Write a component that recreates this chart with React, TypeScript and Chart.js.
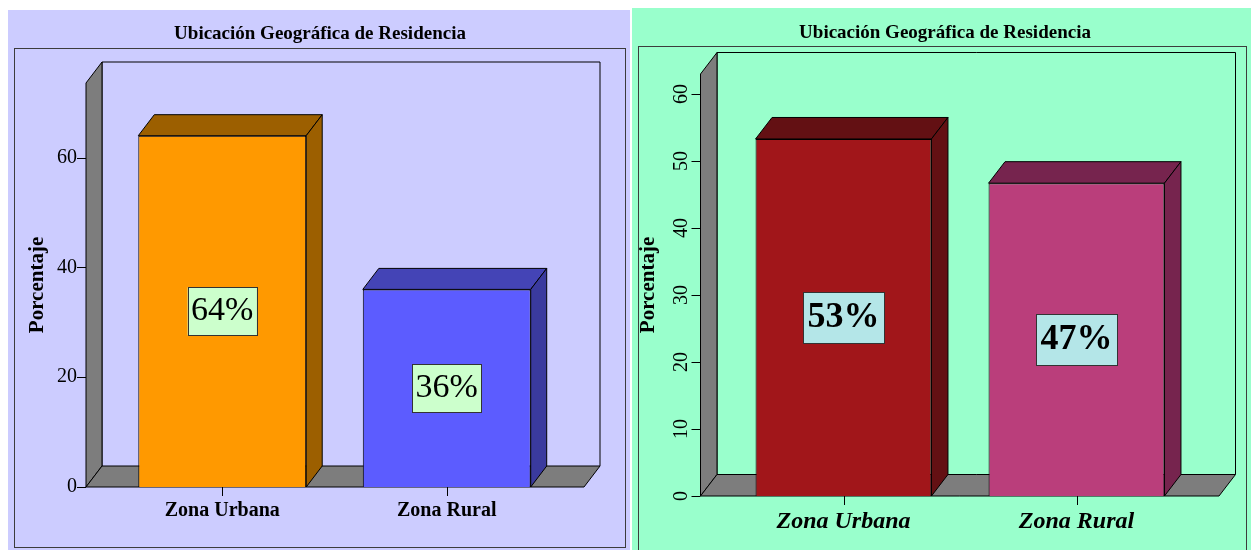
import { useEffect, useRef } from "react";
import { Chart, registerables } from "chart.js";

Chart.register(...registerables);

// ---------- data ----------
const chartTitle = "Ubicación Geográfica de Residencia";
const yAxisTitle = "Porcentaje";
const categories = ["Zona Urbana", "Zona Rural"];

const leftValues = [64, 36];
const leftValueLabels = ["64%", "36%"];
const leftTickValues = [0, 20, 40, 60];
const leftYMax = 73.6;

const rightValues = [53.3, 46.7];
const rightValueLabels = ["53%", "47%"];
const rightTickValues = [0, 10, 20, 30, 40, 50, 60];
const rightYMax = 63;

const FONT = '"Liberation Serif", "Times New Roman", serif';

type Panel = {
  left: number; top: number; width: number; height: number;
  bg: string; frame: [number, number, number, number];
  values: number[]; labels: string[]; tickValues: number[]; yMax: number;
  front: string[]; topFace: string[]; sideFace: string[]; barPct: number;
  padLeft: number;
  chartLeft: number; chartRight: number; chartTop: number; chartBottom: number;
  titleCenterY: number; titleSize: number;
  depth: [number, number]; wallGap: number; floorExt: number;
  yTickSize: number; yTickRotate: boolean; yTickPadding: number;
  yTitleSize: number; yTitlePadTop: number;
  xTickSize: number; xTickItalic: boolean; xTickPadding: number;
  boxFill: string; boxSize: number; boxBold: boolean; boxPadX: number; boxH: number;
};

const leftPanel: Panel = {
  left: 8, top: 10, width: 622, height: 540,
  bg: "#CCCCFF", frame: [6.5, 38.5, 617.5, 537.5],
  values: leftValues, labels: leftValueLabels, tickValues: leftTickValues, yMax: leftYMax,
  front: ["#FF9900", "#5C5CFF"], topFace: ["#9C5F00", "#4444B6"], sideFace: ["#9C5F00", "#3A3A9E"], barPct: 0.748,
  padLeft: 2,
  chartLeft: 102, chartRight: 551, chartTop: 73, chartBottom: 477,
  titleCenterY: 24.5, titleSize: 19,
  depth: [16, -21], wallGap: 24, floorExt: 25,
  yTickSize: 20, yTickRotate: false, yTickPadding: 33,
  yTitleSize: 21, yTitlePadTop: 15.4,
  xTickSize: 20, xTickItalic: false, xTickPadding: 12,
  boxFill: "#CCFFCC", boxSize: 34, boxBold: false, boxPadX: 3.5, boxH: 48,
};

const rightPanel: Panel = {
  left: 632, top: 8, width: 619, height: 542,
  bg: "#99FFCC", frame: [6.5, 38.5, 614.5, 560],
  values: rightValues, labels: rightValueLabels, tickValues: rightTickValues, yMax: rightYMax,
  front: ["#A1161A", "#BA3E7B"], topFace: ["#631013", "#76244E"], sideFace: ["#631013", "#76244E"], barPct: 0.755,
  padLeft: 7,
  chartLeft: 95, chartRight: 561, chartTop: 66, chartBottom: 488,
  titleCenterY: 25, titleSize: 19,
  depth: [16.5, -21.5], wallGap: 26.5, floorExt: 26,
  yTickSize: 20, yTickRotate: true, yTickPadding: 35,
  yTitleSize: 21, yTitlePadTop: -3.1,
  xTickSize: 24, xTickItalic: true, xTickPadding: 11.5,
  boxFill: "#B4E6E8", boxSize: 36, boxBold: true, boxPadX: 4.5, boxH: 51,
};

function PanelChart({ p }: { p: Panel }) {
  const ref = useRef<HTMLCanvasElement>(null);
  useEffect(() => {
    const canvas = ref.current!;
    const lh = p.titleSize * 1.2;
    const tTop = p.titleCenterY - lh / 2;
    const tBottom = p.chartTop - tTop - lh;

    const deco = {
      id: "deco3d",
      beforeDraw(chart: any) {
        const ctx = chart.ctx as CanvasRenderingContext2D;
        const { left, right, top, bottom } = chart.chartArea;
        const [dx, dy] = p.depth;
        const x0 = left - p.wallGap;
        const xR = right + p.floorExt;
        ctx.save();
        ctx.fillStyle = p.bg;
        ctx.fillRect(0, 0, chart.width, chart.height);
        ctx.lineWidth = 1;
        ctx.strokeStyle = "#3c3c3c";
        const [fx0, fy0, fx1, fy1] = p.frame;
        ctx.strokeRect(fx0, fy0, fx1 - fx0, fy1 - fy0);
        const poly = (pts: number[][], fill: string) => {
          ctx.beginPath();
          pts.forEach(([x, y], i) => (i ? ctx.lineTo(x, y) : ctx.moveTo(x, y)));
          ctx.closePath();
          ctx.fillStyle = fill;
          ctx.fill();
          ctx.strokeStyle = "#000";
          ctx.stroke();
        };
        ctx.strokeStyle = "#000";
        ctx.beginPath();
        ctx.moveTo(x0 + dx, bottom + dy);
        ctx.lineTo(x0 + dx, top + dy);
        ctx.lineTo(xR + dx, top + dy);
        ctx.lineTo(xR + dx, bottom + dy);
        ctx.stroke();
        poly([[x0, bottom], [x0, top], [x0 + dx, top + dy], [x0 + dx, bottom + dy]], "#7D7D7D");
        poly([[x0, bottom], [xR, bottom], [xR + dx, bottom + dy], [x0 + dx, bottom + dy]], "#7D7D7D");
        // axis ticks
        ctx.strokeStyle = "#000";
        const ys = chart.scales.y;
        ys.ticks.forEach((t: any) => {
          const py = Math.round(ys.getPixelForValue(t.value)) + 0.5;
          ctx.beginPath();
          ctx.moveTo(x0 - 9, py);
          ctx.lineTo(x0, py);
          ctx.stroke();
        });
        const xs = chart.scales.x;
        xs.ticks.forEach((_t: any, i: number) => {
          const px = Math.round(xs.getPixelForTick(i)) + 0.5;
          ctx.beginPath();
          ctx.moveTo(px, bottom);
          ctx.lineTo(px, bottom + 9);
          ctx.stroke();
        });
        ctx.restore();
      },
      afterDatasetsDraw(chart: any) {
        const ctx = chart.ctx as CanvasRenderingContext2D;
        const [dx, dy] = p.depth;
        const meta = chart.getDatasetMeta(0);
        ctx.save();
        ctx.lineWidth = 1;
        meta.data.forEach((bar: any, i: number) => {
          const { x, y, base, width } = bar.getProps(["x", "y", "base", "width"], true);
          const l = x - width / 2;
          const r = x + width / 2;
          const face = (pts: number[][], fill: string) => {
            ctx.beginPath();
            pts.forEach(([px, py], k) => (k ? ctx.lineTo(px, py) : ctx.moveTo(px, py)));
            ctx.closePath();
            ctx.fillStyle = fill;
            ctx.fill();
            ctx.strokeStyle = "#000";
            ctx.stroke();
          };
          face([[l, y], [r, y], [r + dx, y + dy], [l + dx, y + dy]], p.topFace[i]);
          face([[r, y], [r, base], [r + dx, base + dy], [r + dx, y + dy]], p.sideFace[i]);
          // value label box
          const lab = p.labels[i];
          ctx.font = `${p.boxBold ? "bold " : ""}${p.boxSize}px ${FONT}`;
          const tw = ctx.measureText(lab).width;
          const bw = tw + 2 * p.boxPadX;
          const bh = p.boxH;
          const cx = x;
          const cy = (y + base) / 2;
          ctx.fillStyle = p.boxFill;
          ctx.fillRect(cx - bw / 2, cy - bh / 2, bw, bh);
          ctx.strokeStyle = "#333";
          ctx.strokeRect(Math.round(cx - bw / 2) + 0.5, Math.round(cy - bh / 2) + 0.5, Math.round(bw), Math.round(bh));
          ctx.fillStyle = "#000";
          ctx.textAlign = "center";
          ctx.textBaseline = "middle";
          ctx.fillText(lab, cx, cy);
        });
        ctx.restore();
      },
    };

    const chart = new Chart(canvas, {
      type: "bar",
      data: {
        labels: categories,
        datasets: [
          {
            data: p.values,
            backgroundColor: p.front,
            borderColor: "#000",
            borderWidth: 1,
            categoryPercentage: 1,
            barPercentage: p.barPct,
          },
        ],
      },
      options: {
        animation: false,
        responsive: false,
        devicePixelRatio: 1,
        layout: { padding: { left: p.padLeft, right: 0, top: 0, bottom: 0 } },
        plugins: {
          legend: { display: false },
          tooltip: { enabled: false },
          title: {
            display: true,
            text: chartTitle,
            color: "#000",
            font: { family: FONT, size: p.titleSize, weight: "bold", lineHeight: 1.2 },
            padding: { top: tTop, bottom: tBottom },
          },
        },
        scales: {
          x: {
            type: "category",
            offset: true,
            grid: { display: false, drawTicks: false },
            border: { display: false },
            ticks: {
              color: "#000",
              autoSkip: false,
              maxRotation: 0,
              minRotation: 0,
              padding: p.xTickPadding,
              font: { family: FONT, size: p.xTickSize, weight: "bold", style: p.xTickItalic ? "italic" : "normal", lineHeight: 1.2 },
            },
            afterFit: (s: any) => {
              s.height = p.height - p.chartBottom;
            },
          },
          y: {
            type: "linear",
            min: 0,
            max: p.yMax,
            afterBuildTicks: (s: any) => {
              s.ticks = p.tickValues.map((v) => ({ value: v }));
            },
            grid: { display: false, drawTicks: false },
            border: { display: false },
            ticks: {
              color: "#000",
              padding: p.yTickPadding,
              minRotation: p.yTickRotate ? 90 : 0,
              maxRotation: p.yTickRotate ? 90 : 0,
              crossAlign: p.yTickRotate ? "center" : "near",
              font: { family: FONT, size: p.yTickSize, lineHeight: 1.2 },
            },
            title: {
              display: true,
              text: yAxisTitle,
              color: "#000",
              font: { family: FONT, size: p.yTitleSize, weight: "bold", lineHeight: 1.2 },
              padding: { top: p.yTitlePadTop, bottom: 0 },
            },
            afterFit: (s: any) => {
              s.width = p.chartLeft - p.padLeft;
            },
          },
          ySpace: {
            type: "linear",
            position: "right",
            display: true,
            grid: { display: false, drawTicks: false },
            border: { display: false },
            ticks: { display: false },
            afterFit: (s: any) => {
              s.width = p.width - p.chartRight;
            },
          },
        },
      } as any,
      plugins: [deco as any],
    });
    return () => chart.destroy();
  }, [p]);
  return (
    <canvas
      ref={ref}
      width={p.width}
      height={p.height}
      style={{ position: "absolute", left: p.left, top: p.top, width: p.width, height: p.height }}
    />
  );
}

export default function App() {
  return (
    <div style={{ position: "absolute", left: 0, top: 0, width: 1255, height: 550, background: "#fff", overflow: "hidden" }}>
      <PanelChart p={leftPanel} />
      <PanelChart p={rightPanel} />
    </div>
  );
}
